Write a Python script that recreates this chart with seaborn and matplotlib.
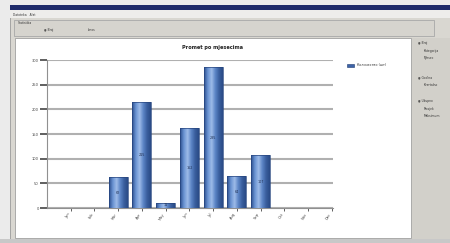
import matplotlib.pyplot as plt
import matplotlib.patches as mpatches
from matplotlib.colors import LinearSegmentedColormap
import numpy as np
import pandas as pd
import seaborn as sns

months = ["Jan", "Feb", "Mar", "Apr", "May", "Jun",
          "Jul", "Aug", "Sep", "Oct", "Nov", "Dec"]
counts = [0, 0, 62, 215, 11, 162, 285, 64, 107, 0, 0, 0]
y_ticks = [0, 50, 100, 150, 200, 250, 300]
series_name = "Количество (шт)"
chart_title = "Promet po mjesecima"

df = pd.DataFrame({"month": months, "count": counts})

sns.set_theme(style="white")
plt.rcParams['font.family'] = ['DejaVu Sans']

W, H = 450, 243
fig = plt.figure(figsize=(4.5, 2.43), dpi=100)
fig.patch.set_facecolor("#ebebeb")

# window chrome, drawn in pixel units on a background axes
bg = fig.add_axes([0, 0, 1, 1])
bg.set_xlim(0, W)
bg.set_ylim(H, 0)
bg.axis("off")

def box(x, y, w, h, fc, ec="none", lw=0.6):
    bg.add_patch(mpatches.Rectangle((x, y), w, h, facecolor=fc, edgecolor=ec, linewidth=lw))

box(10, 5, 440, 238, "#d9d7d1", "#9a9a9a")          # window body
box(10, 5, 440, 5, "#1e2a6a")                        # title bar
box(10, 10, 440, 8, "#eeedeb")                       # menu bar
bg.text(13, 14.5, "Datoteka   Alat", fontsize=2.2, color="#333", va="center")
box(14, 20, 420, 16, "#d6d4ce", "#a8a8a8")           # group box
bg.text(18, 23, "Statistika", fontsize=2.2, color="#333", va="center")
bg.text(44, 30, "◉ Broj", fontsize=2.2, color="#333", va="center")
bg.text(88, 30, "Iznos", fontsize=2.2, color="#333", va="center")
box(15, 38, 396, 200, "white", "#a0a0a0")            # chart panel
box(412, 38, 38, 205, "#d2d0ca")                     # side panel
for yy, items in [(43, ["◉ Broj", "Kategorija", "Mjesec"]),
                  (77, ["◉ Godina", "Kvartalno"]),
                  (101, ["◉ Ukupno", "Prosjek", "Maksimum"])]:
    for i, t in enumerate(items):
        bg.text(418 if i == 0 else 424, yy + i * 7.5, t, fontsize=2.2,
                color="#333", va="center")
box(0, 239, W, 4, "#c8c8c8")

# chart title and legend
bg.text(213, 47, chart_title, fontsize=3.6, fontweight="bold",
        color="#222", ha="center", va="center")
box(347, 63.5, 7, 3, "#3d63a8", "#1c3a70", 0.4)
bg.text(357, 65, series_name, fontsize=2.4, color="#333", va="center")

# plot
ax = fig.add_axes([47 / W, 1 - 208 / H, 286 / W, 148 / H])
sns.barplot(data=df, x="month", y="count", ax=ax, width=0.8,
            color="#4f78ba", edgecolor="#26457e", linewidth=0.5, zorder=3)
ax.set_xlim(-1, 11.05)
ax.set_ylim(0, 300)
ax.set_yticks(y_ticks)
ax.set_xlabel("")
ax.set_ylabel("")
ax.set_facecolor("white")
ax.grid(axis="y", color="#b0b0b0", linewidth=1.5, zorder=0)
for s in ["top", "right"]:
    ax.spines[s].set_visible(False)
for s in ["left", "bottom"]:
    ax.spines[s].set_color("#909090")
    ax.spines[s].set_linewidth(0.8)
ax.tick_params(axis="y", labelsize=2.6, colors="#444", length=5, width=1.2,
               left=True, pad=1)
ax.tick_params(axis="x", labelsize=2.6, colors="#444", length=2, width=0.6,
               bottom=True, pad=1)
for lab in ax.get_xticklabels():
    lab.set_rotation(60)
    lab.set_ha("right")

# gradient shading on bars
bar_cmap = LinearSegmentedColormap.from_list(
    "bar", ["#2d4f8e", "#6a93d2", "#9dbbe8", "#5c85c6", "#3a5f9e", "#2a4a86"])
grad = np.linspace(0, 1, 64).reshape(1, -1)
for p in ax.patches:
    h = p.get_height()
    if h <= 0:
        continue
    x0, w = p.get_x(), p.get_width()
    im = ax.imshow(grad, extent=[x0, x0 + w, 0, h], aspect="auto",
                   cmap=bar_cmap, vmin=0, vmax=1, zorder=3.5)
    im.set_clip_path(p)
    p.set_facecolor("none")
    p.set_zorder(4)
    ax.text(x0 + w / 2, h / 2, str(int(h)), fontsize=2.4, color="#1e2e50",
            ha="center", va="center", zorder=5)
ax.set_xlim(-1, 11.05)
ax.set_ylim(0, 300)

fig.savefig("out.png", dpi=100, facecolor=fig.get_facecolor())
